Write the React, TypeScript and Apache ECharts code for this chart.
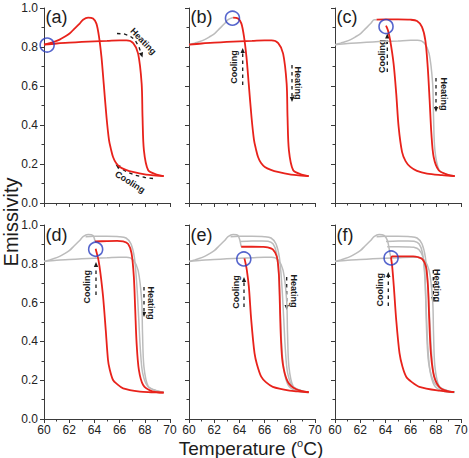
import React, { useEffect, useRef } from "react";
import * as echarts from "echarts";

// Full heating sweep (60 -> 69.5 °C)
const heatA: number[][] = [
  [60, 0.812], [61, 0.818], [62, 0.822], [63, 0.826], [64, 0.829], [65, 0.831],
  [66, 0.834], [66.55, 0.834], [67.08, 0.82], [67.47, 0.766], [67.75, 0.612],
  [67.82, 0.441], [67.93, 0.27], [68.27, 0.168], [68.94, 0.146], [69.5, 0.138],
];
// Full cooling sweep (69.5 -> 60 °C), passes through the emissivity peak
const coolA: number[][] = [
  [69.5, 0.138], [68.9, 0.141], [68.1, 0.146], [67.05, 0.159], [66.5, 0.17],
  [66.02, 0.185], [65.72, 0.205], [65.48, 0.236], [65.3, 0.28], [65.16, 0.322],
  [64.96, 0.441], [64.74, 0.612], [64.56, 0.749], [64.37, 0.851], [64.16, 0.92],
  [63.89, 0.946], [63.5, 0.951], [63.1, 0.94], [62.83, 0.92], [62.4, 0.893],
  [62.03, 0.869], [61.6, 0.851], [61.24, 0.838], [60.8, 0.827], [60.44, 0.82], [60, 0.812],
];
// Minor loops
const heatC: number[][] = [
  [63.3, 0.94], [64, 0.942], [65, 0.942], [65.98, 0.94], [66.51, 0.933], [66.9, 0.903],
  [67.17, 0.834], [67.36, 0.697], [67.51, 0.527], [67.65, 0.356], [67.83, 0.236],
  [68.23, 0.168], [68.9, 0.146], [69.5, 0.138],
];
const coolC: number[][] = [
  [69.5, 0.138], [68.5, 0.143], [67.3, 0.151], [66.5, 0.165], [65.98, 0.185], [65.6, 0.215],
  [65.32, 0.262], [65.05, 0.39], [64.86, 0.561], [64.65, 0.715], [64.38, 0.834],
  [64.2, 0.886], [64.05, 0.91],
];
const heatD: number[][] = [
  [64.05, 0.915], [65, 0.917], [65.8, 0.918], [66.28, 0.916], [66.68, 0.902], [66.95, 0.854],
  [67.13, 0.734], [67.24, 0.562], [67.35, 0.39], [67.53, 0.253], [67.87, 0.175],
  [68.54, 0.144], [69.5, 0.136],
];
const coolD: number[][] = [
  [69.5, 0.136], [68.5, 0.138], [67.61, 0.141], [66.28, 0.158], [65.8, 0.18], [65.48, 0.201],
  [65.2, 0.26], [65.08, 0.304], [64.9, 0.459], [64.69, 0.63], [64.48, 0.751], [64.32, 0.82],
  [64.16, 0.862], [64.1, 0.878],
];
const heatE: number[][] = [
  [64.14, 0.888], [65, 0.888], [65.8, 0.887], [66.25, 0.885], [66.65, 0.874], [66.97, 0.837],
  [67.13, 0.751], [67.21, 0.596], [67.29, 0.424], [67.44, 0.287], [67.84, 0.192],
  [68.51, 0.153], [69.5, 0.138],
];
const coolE: number[][] = [
  [69.5, 0.138], [68.7, 0.142], [67.98, 0.146], [66.65, 0.166], [66.1, 0.19], [65.73, 0.218],
  [65.4, 0.28], [65.2, 0.339], [64.94, 0.51], [64.75, 0.682], [64.59, 0.768], [64.46, 0.811],
  [64.4, 0.828],
];
const heatF: number[][] = [
  [64.45, 0.83], [64.54, 0.838], [65.5, 0.838], [66.2, 0.838], [66.56, 0.835], [66.95, 0.823],
  [67.22, 0.785], [67.38, 0.682], [67.48, 0.51], [67.61, 0.339], [67.87, 0.218],
  [68.4, 0.158], [69.45, 0.138],
];
const coolF: number[][] = [
  [69.45, 0.138], [68.27, 0.146], [66.69, 0.166], [66.1, 0.19], [65.65, 0.218], [65.35, 0.27],
  [65.12, 0.339], [64.86, 0.51], [64.67, 0.682], [64.54, 0.785], [64.45, 0.83],
];
// Reversal points marked with a circle in each panel
const circleMarks: number[][] = [
  [60.25, 0.81], [63.45, 0.948], [64.05, 0.905], [64.1, 0.875], [64.35, 0.825], [64.45, 0.83],
];
const panelTags = ["(a)", "(b)", "(c)", "(d)", "(e)", "(f)"];

const RED = "#e8221b";
const GRAY = "#bcbcbc";
const BLUE = "#2a3fc0";
const INK = "#1c1c1c";
const AXIS = "#3a3a3a";
const FONT = '"Liberation Sans", Arial, Helvetica, sans-serif';

const COL_LEFT = [44, 189, 335];
const ROW_TOP = [8, 225];
const ROW_H = [195, 194];
const PANEL_W = 126;

const peakIdx = coolA.reduce((best, p, i) => (p[1] > coolA[best][1] ? i : best), 0);
// cooling branch from a loop's turning point back to 60 °C
const upperFrom = (start: number[]) => [start, ...coolA.filter((p) => p[0] < start[0])];

const panels = [
  { red: [heatA, coolA], gray: [] as number[][][] },
  { red: [heatA, coolA.slice(0, peakIdx + 1)], gray: [coolA.slice(peakIdx)] },
  { red: [heatC, coolC], gray: [upperFrom(heatC[0]), heatA] },
  { red: [heatD, coolD], gray: [upperFrom(heatD[0]), heatA, heatC] },
  { red: [heatE, coolE], gray: [upperFrom(heatE[0]), heatA, heatC, heatD] },
  { red: [heatF, coolF], gray: [upperFrom(heatF[0]), heatA, heatC, heatD, heatE] },
];

type Pt = [number, number];
const R = Math.PI / 2;
const notes: { text: string; x: number; y: number; rot: number }[] = [
  { text: "Heating", x: 143.3, y: 41.3, rot: -0.8 },
  { text: "Cooling", x: 130, y: 182, rot: -0.56 },
  { text: "Cooling", x: 234.3, y: 67, rot: R },
  { text: "Heating", x: 298.3, y: 83, rot: -R },
  { text: "Cooling", x: 381.7, y: 56.3, rot: R },
  { text: "Heating", x: 444, y: 94, rot: -R },
  { text: "Cooling", x: 87.3, y: 286.7, rot: R },
  { text: "Heating", x: 150.7, y: 303, rot: -R },
  { text: "Cooling", x: 236, y: 292, rot: R },
  { text: "Heating", x: 294, y: 291, rot: -R },
  { text: "Cooling", x: 380, y: 289.7, rot: R },
  { text: "Heating", x: 437.3, y: 285.5, rot: -R },
];
const arrows: { path: Pt[]; tip: Pt }[] = [
  { path: [[117, 33.5], [124, 34], [130, 36], [135, 40], [139, 47]], tip: [142.5, 57.5] },
  { path: [[153, 178.5], [145, 177.5], [136, 175.5], [128, 172.5], [121, 168.5]], tip: [115.5, 164.5] },
  { path: [[242.7, 85], [242.7, 56]], tip: [242.7, 48] },
  { path: [[292, 65], [292, 95]], tip: [292, 102] },
  { path: [[387.3, 72], [387.3, 41]], tip: [387.3, 33.5] },
  { path: [[436, 78], [436, 105]], tip: [436, 112] },
  { path: [[96, 295], [96, 270]], tip: [96, 262] },
  { path: [[144, 287], [144, 310]], tip: [144, 317] },
  { path: [[244, 307], [244, 284]], tip: [244, 277] },
  { path: [[286.7, 277], [286.7, 303]], tip: [286.7, 310] },
  { path: [[388.3, 306], [388.3, 279]], tip: [388.3, 272] },
  { path: [[433.3, 270], [433.3, 295]], tip: [433.3, 302] },
];

function dashedArrow(path: Pt[], tip: Pt) {
  const last = path[path.length - 1];
  const dx = tip[0] - last[0];
  const dy = tip[1] - last[1];
  const len = Math.hypot(dx, dy) || 1;
  const ux = dx / len;
  const uy = dy / len;
  const headLen = 5;
  const half = 2.2;
  const bx = tip[0] - ux * headLen;
  const by = tip[1] - uy * headLen;
  return [
    {
      type: "polyline",
      silent: true,
      shape: { points: [...path, [bx, by]] },
      style: { stroke: INK, lineWidth: 1.3, lineDash: [3.5, 3.5], fill: null },
    },
    {
      type: "polygon",
      silent: true,
      shape: { points: [tip, [bx - uy * half, by + ux * half], [bx + uy * half, by - ux * half]] },
      style: { fill: INK },
    },
  ];
}

export default function App() {
  const ref = useRef<HTMLDivElement>(null);

  useEffect(() => {
    if (!ref.current) return;
    const chart = echarts.init(ref.current, undefined, { renderer: "svg" });

    const grid: any[] = [];
    const xAxis: any[] = [];
    const yAxis: any[] = [];
    const series: any[] = [];

    panels.forEach((p, i) => {
      const col = i % 3;
      const row = Math.floor(i / 3);
      grid.push({
        left: COL_LEFT[col],
        top: ROW_TOP[row],
        width: PANEL_W,
        height: ROW_H[row],
        containLabel: false,
        outerBoundsMode: "none",
      });
      xAxis.push({
        type: "value",
        gridIndex: i,
        min: 60,
        max: 70,
        interval: 2,
        axisLine: { show: true, lineStyle: { color: AXIS, width: 1 } },
        axisTick: { show: true, length: 4, lineStyle: { color: AXIS } },
        minorTick: { show: true, splitNumber: 2, length: 2.5, lineStyle: { color: AXIS } },
        splitLine: { show: false },
        axisLabel: { show: row === 1, fontSize: 12, color: "#222", margin: 5, fontFamily: FONT },
      });
      yAxis.push({
        type: "value",
        gridIndex: i,
        min: 0,
        max: 1,
        interval: 0.2,
        axisLine: { show: true, lineStyle: { color: AXIS, width: 1 } },
        axisTick: { show: true, length: 4, lineStyle: { color: AXIS } },
        minorTick: { show: true, splitNumber: 2, length: 2.5, lineStyle: { color: AXIS } },
        splitLine: { show: false },
        axisLabel: {
          show: col === 0,
          fontSize: 12,
          color: "#222",
          margin: 6,
          fontFamily: FONT,
          formatter: (v: number) => v.toFixed(1),
        },
      });
      p.gray.forEach((d) =>
        series.push({
          type: "line",
          xAxisIndex: i,
          yAxisIndex: i,
          data: d,
          showSymbol: false,
          smooth: 0.3,
          silent: true,
          z: 2,
          lineStyle: { color: GRAY, width: 1.5 },
        })
      );
      p.red.forEach((d) =>
        series.push({
          type: "line",
          xAxisIndex: i,
          yAxisIndex: i,
          data: d,
          showSymbol: false,
          smooth: 0.3,
          silent: true,
          z: 3,
          lineStyle: { color: RED, width: 1.8 },
        })
      );
      series.push({
        type: "scatter",
        xAxisIndex: i,
        yAxisIndex: i,
        data: [circleMarks[i]],
        symbol: "circle",
        symbolSize: 14,
        silent: true,
        z: 4,
        itemStyle: { color: "rgba(0,0,0,0)", borderColor: BLUE, borderWidth: 1.6 },
      });
    });

    const graphic: any[] = [];
    panelTags.forEach((t, i) => {
      graphic.push({
        type: "text",
        x: COL_LEFT[i % 3] + 1.5,
        y: i < 3 ? 16.5 : 235,
        silent: true,
        style: { text: t, fontSize: 18, fontFamily: FONT, fill: INK, align: "left", verticalAlign: "middle" },
      });
    });
    notes.forEach((n) =>
      graphic.push({
        type: "text",
        x: n.x,
        y: n.y,
        rotation: n.rot,
        silent: true,
        style: {
          text: n.text,
          fontSize: 9,
          fontWeight: "bold",
          fontFamily: FONT,
          fill: INK,
          align: "center",
          verticalAlign: "middle",
        },
      })
    );
    arrows.forEach((a) => graphic.push(...dashedArrow(a.path, a.tip)));
    graphic.push({
      type: "text",
      x: 10.5,
      y: 222,
      rotation: Math.PI / 2,
      silent: true,
      style: {
        text: "Emissivity",
        fontSize: 20,
        lineHeight: 20,
        fontFamily: FONT,
        fill: INK,
        align: "center",
        verticalAlign: "middle",
      },
    });
    graphic.push({
      type: "text",
      x: 251,
      y: 448,
      silent: true,
      style: {
        text: "Temperature ({sup|o}C)",
        fontSize: 19,
        lineHeight: 22,
        fontFamily: FONT,
        fill: INK,
        align: "center",
        verticalAlign: "middle",
        rich: {
          sup: { fontSize: 11, lineHeight: 11, verticalAlign: "top", fontFamily: FONT, fill: INK },
        },
      },
    });

    chart.setOption({
      animation: false,
      backgroundColor: "#ffffff",
      grid,
      xAxis,
      yAxis,
      series,
      graphic,
    });

    return () => chart.dispose();
  }, []);

  return (
    <div
      ref={ref}
      style={{ position: "fixed", left: 0, top: 0, width: 469, height: 458, background: "#fff" }}
    />
  );
}
